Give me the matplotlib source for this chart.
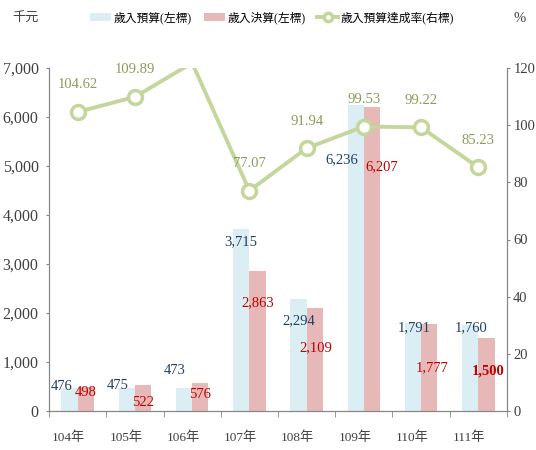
import numpy as np
import matplotlib.pyplot as plt
import matplotlib.transforms as mtransforms

plt.rcParams['font.family'] = ['Liberation Serif', 'Noto Sans CJK TC', 'DejaVu Sans']

# 資料
years = ['104年', '105年', '106年', '107年', '108年', '109年', '110年', '111年']
budget = [476, 475, 473, 3715, 2294, 6236, 1791, 1760]      # 歲入預算 (千元)
actual = [498, 522, 576, 2863, 2109, 6207, 1777, 1500]      # 歲入決算 (千元)
rate = [104.62, 109.89, 121.78, 77.07, 91.94, 99.53, 99.22, 85.23]  # 達成率 (%)

# 標籤位置微調 (像素)
budget_off = [(-8, 1), (-9, 2), (-9, 17), (0, -13), (0, -22), (-14, -54), (1, -4), (1, -3)]
actual_off = [(0, -6), (0, -17), (0, -12), (0, -32), (1, -40), (10, -60), (3, -44), (2, -34)]

c_blue = '#DAEEF3'
c_red = '#E6B9B8'
c_line = '#C3D69B'
c_axis = '#868686'

fig = plt.figure(figsize=(5.36, 4.5), dpi=100)
ax = fig.add_axes([49/536, 39/450, 458/536, 343/450])
ax2 = ax.twinx()

x = np.arange(len(years))
w = 0.286
ax.bar(x - w/2, budget, w, color=c_blue, label='歲入預算(左標)')
ax.bar(x + w/2, actual, w, color=c_red, label='歲入決算(左標)')

for i in range(len(x)):
    ax.annotate(f'{budget[i]:,}', (x[i] - w/2, budget[i]), xytext=budget_off[i],
                textcoords='offset pixels', ha='center', va='center',
                fontsize=10.5, color='#243F60')
    ax.annotate(f'{actual[i]:,}', (x[i] + w/2, actual[i]), xytext=actual_off[i],
                textcoords='offset pixels', ha='center', va='center',
                fontsize=10.5, color='#C00000',
                fontweight='bold' if i == len(x) - 1 else 'normal')

# 超出右軸上限的點不畫標記
shown = [i for i in range(len(x)) if rate[i] <= 120]
ax2.plot(x, rate, color=c_line, lw=2.8, marker='o', ms=10, mfc='white',
         mec=c_line, mew=2.5, markevery=shown, label='歲入預算達成率(右標)')
for i in range(len(x)):
    ax2.annotate(f'{rate[i]:.2f}', (x[i], rate[i]), xytext=(0, 27),
                 textcoords='offset pixels', ha='center', va='center',
                 fontsize=10.5, color='#8B9B5A')

ax.set_xlim(-0.5, len(x) - 0.5)
ax.set_ylim(0, 7000)
ax2.set_ylim(0, 120)
ax.set_yticks(range(0, 7001, 1000))
ax.set_yticklabels([f'{v:,}' for v in range(0, 7001, 1000)])
ax2.set_yticks(range(0, 121, 20))

ax.set_xticks(x)
ax.set_xticklabels(years, fontsize=9.5)
ax.set_xticks(np.arange(-0.5, len(x), 1), minor=True)
ax.tick_params(axis='x', which='major', length=0, pad=15, colors='#404040')
ax.tick_params(axis='x', which='minor', length=4, color=c_axis, direction='out')
shift = mtransforms.ScaledTranslation(-9/100, 0, fig.dpi_scale_trans)
for lab in ax.get_xticklabels():
    lab.set_transform(lab.get_transform() + shift)

ax.tick_params(axis='y', length=2.5, color=c_axis, labelsize=11.5, labelcolor='#404040', pad=5)
ax2.tick_params(axis='y', length=2.5, color=c_axis, labelsize=10.5, labelcolor='#404040', pad=2)

for a in (ax, ax2):
    a.spines['top'].set_visible(False)
    for s in ('left', 'right', 'bottom'):
        a.spines[s].set_color(c_axis)

fig.text(12/536, 1 - 18/450, '千元', fontsize=9.5, va='center', ha='left', color='#404040')
fig.text(514/536, 1 - 18/450, '%', fontsize=10.5, va='center', ha='left', color='#404040')

h1, l1 = ax.get_legend_handles_labels()
h2, l2 = ax2.get_legend_handles_labels()
fig.legend(h1 + h2, l1 + l2, loc='center', bbox_to_anchor=(272/536, 1 - 18/450),
           ncol=3, frameon=False, fontsize=8.5, handlelength=1.8, handleheight=0.6,
           columnspacing=1.0, handletextpad=0.2, markerscale=0.6)

fig.savefig('out.png', dpi=100)
